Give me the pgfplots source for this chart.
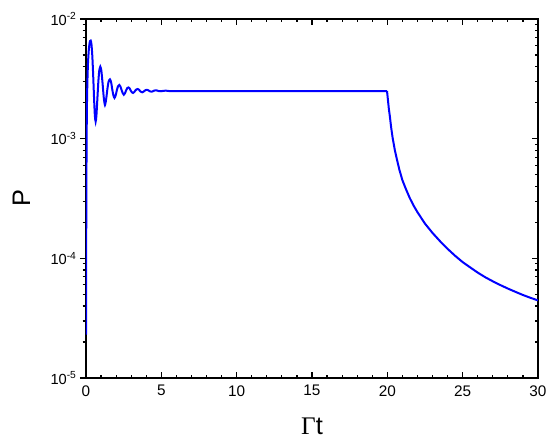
\documentclass[border=0pt]{standalone}
\usepackage{fontspec}
\setmainfont{Liberation Sans}
\newfontfamily\serifgr{Liberation Serif}
\usepackage{pgfplots}
\pgfplotsset{compat=1.18}
\definecolor{curveblue}{RGB}{0,0,255}
\begin{document}
\begin{tikzpicture}
\begin{axis}[
  at={(0,0)}, anchor=south west,
  scale only axis, width=339pt, height=269.25pt,
  xmin=0, xmax=30, ymin=1e-5, ymax=1e-2,
  ymode=log, log basis y=10,
  xtick={0,5,...,30}, minor x tick num=4,
  xtick align=inside, xtick pos=both,
  ytick pos=left, ytick align=outside,
  major tick length=4.5pt, minor tick length=2.6pt,
  every tick/.style={black, line width=0.9pt},
  axis line style={line width=1.1pt},
  xticklabel style={font=\fontsize{11.5}{13}\selectfont, yshift=-2pt},
  yticklabel style={font=\fontsize{11}{13}\selectfont, xshift=1pt},
  xticklabel={\pgfmathtruncatemacro\xv{\tick}\xv},
  yticklabel={\pgfmathtruncatemacro\ev{\tick}10\textsuperscript{\ev}},
  xlabel={{\serifgr\fontsize{19}{22}\selectfont\char"0393}{\fontsize{19}{22}\selectfont t}},
  ylabel={\fontsize{19}{22}\selectfont P},
  xlabel style={at={(axis description cs:0.5,-0.135)}, anchor=center},
  ylabel style={at={(axis description cs:-0.143,0.5)}, anchor=center, rotate=0},
]
\addplot[curveblue, line width=1.5pt, smooth, tension=0.4] coordinates {
(0.003,2.3e-5) (0.008,6.5e-5) (0.015,1.5e-4) (0.025,3.8e-4) (0.04,9e-4)
(0.06,1.8e-3) (0.09,2.9e-3) (0.13,4.2e-3) (0.18,5.4e-3) (0.23,6.2e-3)
(0.27,6.55e-3) (0.31,6.6e-3) (0.36,6.2e-3) (0.42,4.9e-3) (0.48,3.3e-3)
(0.54,2.1e-3) (0.59,1.55e-3) (0.64,1.39e-3) (0.69,1.55e-3) (0.75,2.1e-3)
(0.82,3.0e-3) (0.88,3.7e-3) (0.95,4.0e-3) (1.02,3.7e-3) (1.10,2.9e-3)
(1.18,2.2e-3) (1.26,1.91e-3) (1.34,2.15e-3) (1.42,2.6e-3) (1.50,3.0e-3)
(1.59,3.13e-3) (1.67,2.95e-3) (1.75,2.55e-3) (1.82,2.3e-3) (1.89,2.19e-3)
(1.97,2.3e-3) (2.05,2.55e-3) (2.13,2.75e-3) (2.21,2.81e-3) (2.29,2.72e-3)
(2.36,2.55e-3) (2.44,2.4e-3) (2.51,2.33e-3) (2.59,2.4e-3) (2.67,2.55e-3)
(2.74,2.65e-3) (2.82,2.68e-3) (2.90,2.63e-3) (2.97,2.52e-3) (3.05,2.44e-3)
(3.12,2.41e-3) (3.20,2.45e-3) (3.28,2.53e-3) (3.35,2.58e-3) (3.43,2.60e-3)
(3.51,2.57e-3) (3.59,2.5e-3) (3.66,2.46e-3) (3.74,2.44e-3) (3.82,2.47e-3)
(3.90,2.52e-3) (3.97,2.55e-3) (4.05,2.56e-3) (4.13,2.54e-3) (4.21,2.5e-3)
(4.28,2.48e-3) (4.36,2.47e-3) (4.44,2.49e-3) (4.52,2.52e-3) (4.59,2.53e-3)
(4.67,2.535e-3) (4.82,2.50e-3) (4.98,2.49e-3) (5.14,2.51e-3) (5.30,2.52e-3)
(5.45,2.505e-3) (5.60,2.495e-3) (6.0,2.5e-3) (7.0,2.5e-3) (10.0,2.5e-3)
(15.0,2.5e-3) (19.98,2.5e-3)
};
\addplot[curveblue, line width=1.5pt, line join=round] coordinates {
(19.98,2.5e-3) (20.05,2.05e-3) (20.10,1.78e-3) (20.17,1.53e-3) (20.25,1.25e-3)
(20.35,1.02e-3) (20.50,8.0e-4) (20.65,6.6e-4) (20.80,5.5e-4) (21.00,4.5e-4)
(21.25,3.75e-4) (21.50,3.17e-4) (21.75,2.75e-4) (22.00,2.43e-4) (22.50,1.95e-4)
(23.00,1.63e-4) (23.50,1.39e-4) (24.00,1.20e-4) (24.50,1.05e-4) (25.00,9.3e-5)
(25.50,8.4e-5) (26.00,7.6e-5) (26.50,6.95e-5) (27.00,6.43e-5) (27.50,5.98e-5)
(28.00,5.59e-5) (28.50,5.25e-5) (29.00,4.94e-5) (29.50,4.68e-5) (30.00,4.45e-5)
};
\end{axis}
\begin{axis}[
  at={(0,0)}, anchor=south west,
  scale only axis, width=339pt, height=269.25pt,
  xmin=0, xmax=30, ymin=1e-5, ymax=1e-2,
  ymode=log, log basis y=10,
  xtick=\empty, ytick pos=right, ytick align=inside,
  major tick length=4.5pt, minor tick length=2.6pt,
  every tick/.style={black, line width=0.9pt},
  axis line style={draw=none}, yticklabels={},
]
\end{axis}
\pgfresetboundingbox
\path[use as bounding box] (-64.5pt,-51pt) rectangle (348pt,283.5pt);
\end{tikzpicture}
\end{document}
